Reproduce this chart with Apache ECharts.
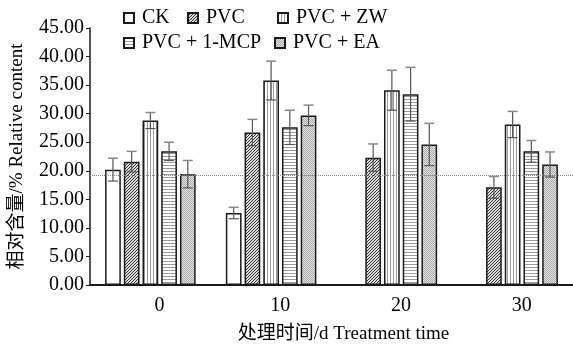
<!DOCTYPE html>
<html>
<head>
<meta charset="utf-8">
<script src="https://cdn.jsdelivr.net/npm/echarts@6/dist/echarts.min.js"></script>
<style>html,body{margin:0;padding:0;background:#fff}#c{width:573px;height:349px}</style>
</head>
<body>
<div id="c"></div>
<script>
// ---- data ----
var categories = ['0', '10', '20', '30'];
var seriesNames = ['CK', 'PVC', 'PVC + ZW', 'PVC + 1-MCP', 'PVC + EA'];
var valCK   = [20.2, 12.6, null, null];
var valPVC  = [21.6, 26.7, 22.3, 17.1];
var valZW   = [28.8, 35.8, 34.1, 28.1];
var valMCP  = [23.4, 27.6, 33.4, 23.4];
var valEA   = [19.4, 29.7, 24.6, 21.1];
var errCK   = [2.0, 1.0, null, null];
var errPVC  = [1.8, 2.3, 2.4, 1.9];
var errZW   = [1.4, 3.4, 3.5, 2.3];
var errMCP  = [1.6, 3.0, 4.7, 1.9];
var errEA   = [2.4, 1.8, 3.7, 2.2];
var refLine = 19.3;
var yTicks = [0, 5, 10, 15, 20, 25, 30, 35, 40, 45];

var values = [valCK, valPVC, valZW, valMCP, valEA];
var errors = [errCK, errPVC, errZW, errMCP, errEA];

// ---- patterns ----
function tile(w, h, draw) {
  var c = document.createElement('canvas'); c.width = w; c.height = h;
  var g = c.getContext('2d'); draw(g); return c;
}
var patPVC = tile(3, 3, function (g) {
  g.fillStyle = '#dcdcdc'; g.fillRect(0, 0, 3, 3);
  g.fillStyle = '#333333'; g.fillRect(0, 2, 1, 1); g.fillRect(1, 1, 1, 1); g.fillRect(2, 0, 1, 1);
});
var patZW = tile(3, 3, function (g) {
  g.fillStyle = '#ffffff'; g.fillRect(0, 0, 3, 3);
  g.fillStyle = '#9a9a9a'; g.fillRect(0, 0, 1, 3);
});
var patMCP = tile(3, 3, function (g) {
  g.fillStyle = '#ffffff'; g.fillRect(0, 0, 3, 3);
  g.fillStyle = '#9a9a9a'; g.fillRect(0, 0, 3, 1);
});
var patEA = tile(2, 2, function (g) {
  g.fillStyle = '#e6e6e6'; g.fillRect(0, 0, 2, 2);
  g.fillStyle = '#a8a8a8'; g.fillRect(0, 0, 1, 1); g.fillRect(1, 1, 1, 1);
});
var fills = ['#ffffff',
  {image: patPVC, repeat: 'repeat'},
  {image: patZW, repeat: 'repeat'},
  {image: patMCP, repeat: 'repeat'},
  {image: patEA, repeat: 'repeat'}];

var FONT = '"Liberation Serif", "Times New Roman", "Noto Sans CJK SC", serif';
var catGap = 0.25, barGapR = 0.19, nSeries = 5;

var series = [];
values.forEach(function (v, i) {
  series.push({
    name: seriesNames[i], type: 'bar', data: v,
    barCategoryGap: '25%', barGap: '19%',
    itemStyle: {color: fills[i], borderColor: '#1a1a1a', borderWidth: 1.5},
    z: 2
  });
});
// error bars
values.forEach(function (v, i) {
  var d = v.map(function (val, k) { return [k, val, errors[i][k]]; }).filter(function (d) { return d[1] != null; });
  series.push({
    type: 'custom', name: 'err' + i, data: d, z: 5, silent: true,
    renderItem: function (params, api) {
      var cat = api.value(0), val = api.value(1), e = api.value(2);
      var band = api.size([1, 0])[0];
      var w = band * (1 - catGap) / (nSeries + (nSeries - 1) * barGapR);
      var groupW = nSeries * w + (nSeries - 1) * barGapR * w;
      var c = api.coord([cat, val]);
      var x = c[0] - groupW / 2 + i * w * (1 + barGapR) + w / 2;
      var yT = api.coord([cat, val + e])[1], yB = api.coord([cat, val - e])[1];
      var cap = 5;
      var st = {stroke: '#555', lineWidth: 1.2};
      return {type: 'group', children: [
        {type: 'line', shape: {x1: x, y1: yT, x2: x, y2: yB}, style: st},
        {type: 'line', shape: {x1: x - cap, y1: yT, x2: x + cap, y2: yT}, style: {stroke: '#888', lineWidth: 1.5}},
        {type: 'line', shape: {x1: x - cap, y1: yB, x2: x + cap, y2: yB}, style: st}
      ]};
    }
  });
});
// reference dotted line
series.push({
  type: 'line', name: 'ref', data: [], z: 6, silent: true,
  markLine: {silent: true, symbol: 'none', label: {show: false},
    lineStyle: {type: 'dotted', color: '#888', width: 1},
    data: [{yAxis: refLine}]}
});

var legendPos = [[123, 8], [187, 8], [277, 8], [123, 33], [274, 33]];
var legends = seriesNames.map(function (n, i) {
  return {data: [n], left: legendPos[i][0], top: legendPos[i][1], padding: 0,
    itemWidth: 10, itemHeight: 10, icon: 'rect', selectedMode: false,
    textStyle: {fontFamily: FONT, fontSize: 20, color: '#000', padding: [0, 0, 0, 3]}};
});

var chart = echarts.init(document.getElementById('c'), null, {renderer: 'canvas'});
chart.setOption({
  animation: false,
  backgroundColor: '#fff',
  legend: legends,
  grid: {left: 88, right: -1, top: 28, bottom: 63, containLabel: false},
  xAxis: {
    type: 'category', data: categories,
    axisLine: {lineStyle: {color: '#1a1a1a', width: 2}},
    axisTick: {show: false},
    axisLabel: {fontFamily: FONT, fontSize: 20, color: '#000', margin: 11, padding: [0, 0, 0, 18]},
    name: '处理时间/d Treatment time', nameLocation: 'middle', nameGap: 40,
    nameTextStyle: {fontFamily: FONT, fontSize: 19, color: '#000', padding: [0, 0, 0, 24]}
  },
  yAxis: {
    type: 'value', min: 0, max: 45, interval: 5,
    axisLine: {show: true, lineStyle: {color: '#1a1a1a', width: 1.5}},
    axisTick: {show: true, length: 4, lineStyle: {color: '#1a1a1a'}},
    splitLine: {show: false},
    axisLabel: {fontFamily: FONT, fontSize: 20, color: '#000', margin: 6,
      formatter: function (v) { return yTicks.indexOf(v) >= 0 ? v.toFixed(2) : ''; }},
    name: '相对含量/% Relative content', nameLocation: 'middle', nameGap: 63, nameRotate: 90,
    nameTextStyle: {fontFamily: FONT, fontSize: 19, color: '#000'}
  },
  series: series
});
</script>
</body>
</html>
